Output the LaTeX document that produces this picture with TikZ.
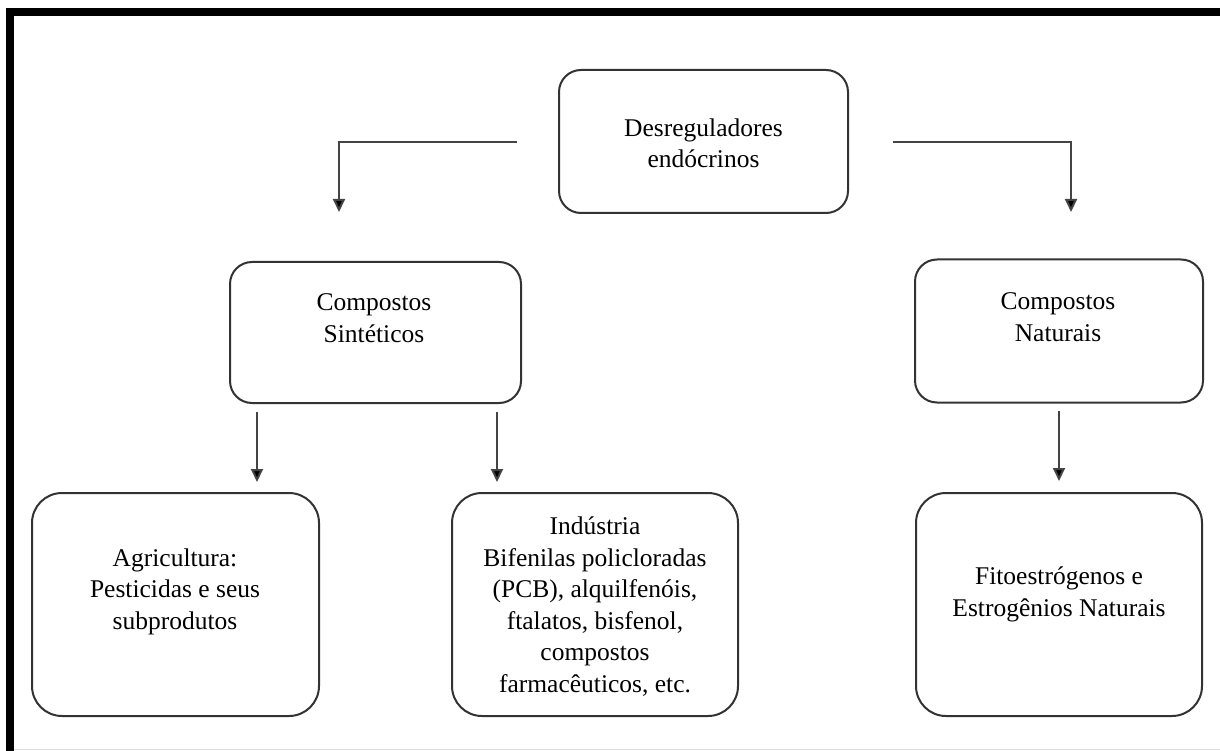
\documentclass[tikz,border=0pt]{standalone}
\usepackage{fontspec}
\setmainfont{Liberation Serif}
\usetikzlibrary{arrows.meta}
\definecolor{edgegrey}{HTML}{333333}
\definecolor{linegrey}{HTML}{444444}
\begin{document}
\begin{tikzpicture}[x=1pt,y=-1pt,
  box/.style={draw=edgegrey, line width=2pt, rectangle, inner sep=0pt},
  midbox/.style={box, rounded corners=22pt},
  lowbox/.style={box, rounded corners=30pt},
  label/.style={align=center, anchor=base, inner sep=0pt,
    font=\fontsize{25.5}{31.5}\selectfont},
  conn/.style={draw=linegrey, line width=2pt,
    -{Triangle[length=13pt,width=12pt,fill=black]}}]
\useasboundingbox (0,0) rectangle (1220,751);

% frame
\fill[black] (6,8) rectangle (1220,16);
\fill[black] (6,8) rectangle (14,751);
\draw[black!12, line width=1pt] (14,749.5) -- (1220,749.5);

% boxes
\node[midbox, minimum width=289pt, minimum height=143pt] (root) at (703.5,141.5) {};
\node[midbox, minimum width=291pt, minimum height=141pt] (sint) at (375.5,332.5) {};
\node[midbox, minimum width=288pt, minimum height=143pt] (nat) at (1059,331) {};
\node[lowbox, minimum width=287pt, minimum height=223pt] (agri) at (175.5,604.5) {};
\node[lowbox, minimum width=286pt, minimum height=223pt] (ind) at (595,604.5) {};
\node[lowbox, minimum width=286pt, minimum height=223pt] (fito) at (1059,604.5) {};

% texts (anchored at the baseline of their last line)
\node[label] (rootT) at (703.5,168) {Desreguladores\\endócrinos};
\node[label] (sintT) at (374,342) {Compostos\\Sintéticos};
\node[label] (natT) at (1058,341) {Compostos\\Naturais};
\node[label] (agriT) at (175,629) {Agricultura:\\Pesticidas e seus\\subprodutos};
\node[label] (indT) at (595,692) {Indústria\\Bifenilas policloradas\\(PCB), alquilfenóis,\\ftalatos, bisfenol,\\compostos\\farmacêuticos, etc.};
\node[label] (fitoT) at (1059,616) {Fitoestrógenos e\\Estrogênios Naturais};

% connectors
\coordinate (rootL) at (517,142);
\coordinate (sintIn) at (339,212);
\coordinate (rootR) at (893,142);
\coordinate (natIn) at (1071,212);
\coordinate (sintA) at (257,412);
\coordinate (agriIn) at (257,482);
\coordinate (sintB) at (497,412);
\coordinate (indIn) at (497,482);
\coordinate (natA) at (1059,411);
\coordinate (fitoIn) at (1059,481);

\draw[conn] (rootL) -| (sintIn);
\draw[conn] (rootR) -| (natIn);
\draw[conn] (sintA) -- (agriIn);
\draw[conn] (sintB) -- (indIn);
\draw[conn] (natA) -- (fitoIn);
\end{tikzpicture}
\end{document}
